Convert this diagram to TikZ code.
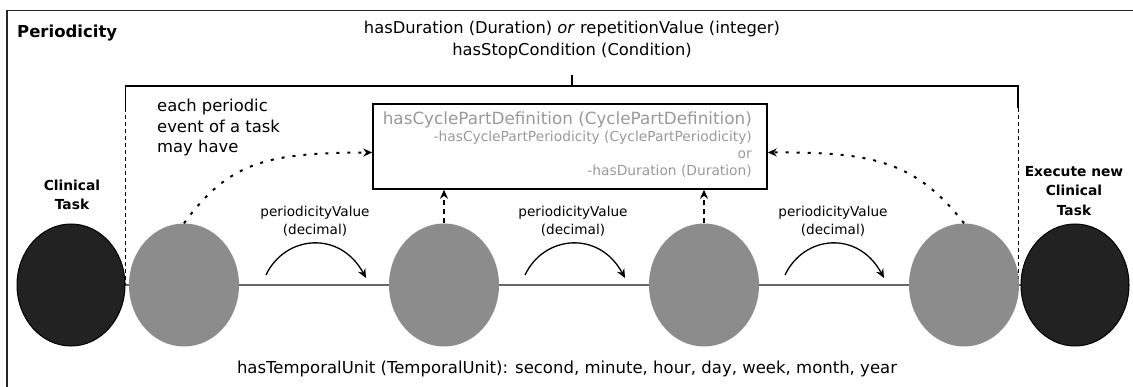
\documentclass[tikz,border=0pt]{standalone}
\usepackage{fontspec}
\setmainfont{DejaVu Sans}
\usetikzlibrary{shapes.geometric,arrows.meta,backgrounds,calc}
\definecolor{evgray}{HTML}{8C8C8C}
\definecolor{taskblack}{HTML}{222222}
\definecolor{txtgray}{HTML}{999999}
\definecolor{axisgray}{HTML}{666666}
\tikzset{
  event/.style={ellipse,fill=evgray,draw=none,minimum width=110pt,minimum height=123pt,inner sep=0pt},
  task/.style={ellipse,fill=taskblack,draw=black,line width=1pt,minimum width=108pt,minimum height=122pt,inner sep=0pt},
  tip/.style={-{Stealth[length=9pt,width=8pt]}},
  dotarrow/.style={tip,line width=2pt,dash pattern=on 3pt off 8pt},
  valarrow/.style={tip,line width=1.3pt},
  plain/.style={inner sep=0pt,align=center,font=\fontsize{16.3}{22}\selectfont},
  pval/.style={inner sep=0pt,align=center,font=\fontsize{13.6}{17.5}\selectfont},
  bold/.style={inner sep=0pt,align=center,font=\fontsize{13.8}{19.5}\selectfont\bfseries},
}
\begin{document}
\begin{tikzpicture}[x=1pt,y=-1pt]
\useasboundingbox (0,0) rectangle (1133,387);
% outer frame
\draw[line width=1.5pt,draw=black!85] (7,387) -- (7,10.5) -- (1133,10.5);
\node[inner sep=0pt,anchor=west,font=\fontsize{16.5}{20}\selectfont\bfseries] (title) at (17,33) {Periodicity};
\node[plain] (top) at (572,40) {hasDuration (Duration) \textit{or} repetitionValue (integer)\\hasStopCondition (Condition)};
% bracket
\coordinate (bl) at (125.5,86);
\coordinate (br) at (1018,86);
\coordinate (bt) at (572,75);
\coordinate (btb) at (572,86);
\coordinate (blm) at (125.5,108);
\coordinate (brm) at (1018,108);
\coordinate (bla) at (125.5,285);
\coordinate (bra) at (1018,285);
\draw[line width=1.5pt] (blm) -- (bl) -- (br) -- (brm);
\draw[line width=1.2pt] (bt) -- (btb);
\draw[line width=0.8pt,dash pattern=on 4pt off 3pt] (blm) -- (bla);
\draw[line width=0.8pt,dash pattern=on 4pt off 3pt] (brm) -- (bra);
% ellipses
\node[task] (t1) at (71,285) {};
\node[event] (g1) at (184,285) {};
\node[event] (g2) at (444,285) {};
\node[event] (g3) at (704,285) {};
\node[event] (g4) at (964,285) {};
\node[task] (t2) at (1075,285) {};
\begin{scope}[on background layer]
\draw[axisgray,line width=1.2pt] (t1.center) -- (t2.center);
\end{scope}
% task labels
\node[bold] (l1) at (72,195) {Clinical\\Task};
\node[bold] (l2) at (1074,191) {Execute new\\Clinical\\Task};
\node[inner sep=0pt,align=left,anchor=west,font=\fontsize{16.4}{20.5}\selectfont] (note) at (157,127.5) {each periodic\\event of a task\\may have};
% inner box
\node[draw,line width=1.5pt,minimum width=394pt,minimum height=85pt,inner sep=0pt] (box) at (570,146.5) {};
\node[inner sep=0pt,anchor=east,text=txtgray,font=\fontsize{16.8}{20}\selectfont] (c1) at (752,120) {hasCyclePartDefinition (CyclePartDefinition)};
\node[inner sep=0pt,anchor=east,text=txtgray,align=right,font=\fontsize{13.8}{17}\selectfont] (c2) at (752,154.5) {-hasCyclePartPeriodicity (CyclePartPeriodicity)\\or\\-hasDuration (Duration)};
% dotted arrows
\draw[dotarrow] (g1.north) .. controls (230,160) and (270,153) .. ([yshift=-6pt]box.west);
\draw[dotarrow] (g4.north) .. controls (915,160) and (870,152) .. ([yshift=-6pt]box.east);
\draw[tip,line width=1.5pt,dash pattern=on 5pt off 4pt] (g2.north) -- (g2.north |- box.south);
\draw[tip,line width=1.5pt,dash pattern=on 5pt off 4pt] (g3.north) -- (g3.north |- box.south);
% periodicity value arrows
\coordinate (a1s) at (266,275); \coordinate (a1e) at (366,278);
\coordinate (a2s) at (525,275); \coordinate (a2e) at (625,278);
\coordinate (a3s) at (785,275); \coordinate (a3e) at (884,278);
\draw[valarrow] (a1s) .. controls (285,235) and (340,230) .. (a1e);
\draw[valarrow] (a2s) .. controls (544,235) and (599,230) .. (a2e);
\draw[valarrow] (a3s) .. controls (804,235) and (858,230) .. (a3e);
\node[pval] (p1) at (315,221) {periodicityValue\\(decimal)};
\node[pval] (p2) at (573,221) {periodicityValue\\(decimal)};
\node[pval] (p3) at (833,221) {periodicityValue\\(decimal)};
% bottom text
\node[inner sep=0pt,font=\fontsize{16.5}{20}\selectfont] (unit) at (567,369) {hasTemporalUnit (TemporalUnit): second, minute, hour, day, week, month, year};
\end{tikzpicture}
\end{document}
